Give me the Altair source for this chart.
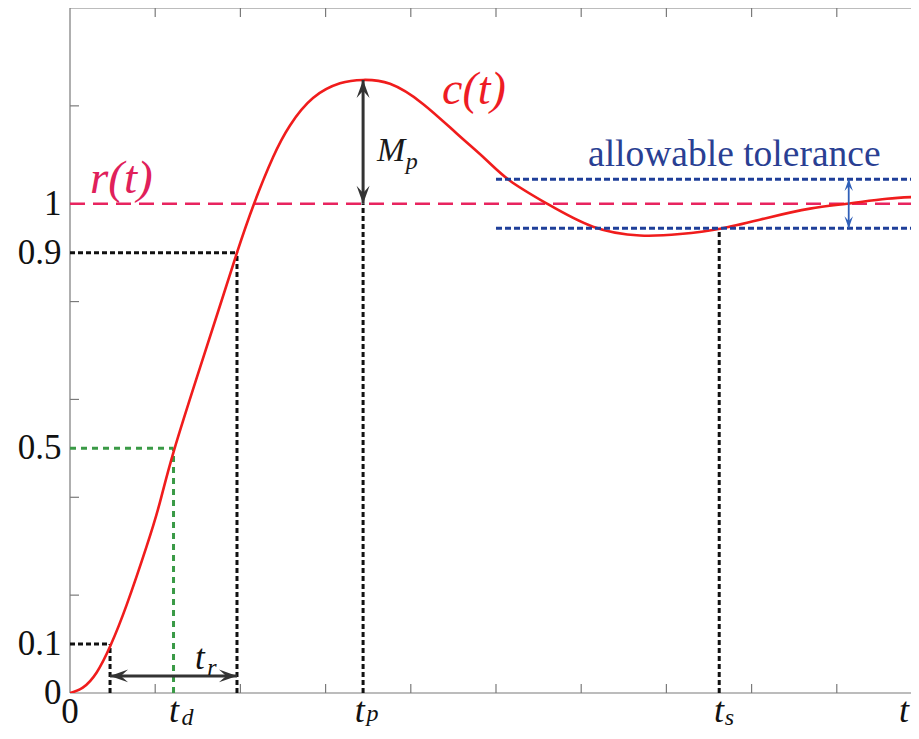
import altair as alt
import pandas as pd

# ---- data ----
t_curve = [0, 0.15, 0.313, 0.478, 0.665, 0.900, 1.056, 1.221, 1.526, 1.761, 1.960,
           2.160, 2.383, 2.582, 2.852, 3.169, 3.440, 3.756, 4.143, 4.542, 4.871,
           5.164, 5.599, 6.138, 6.690, 7.160, 7.629, 8.181, 8.685, 9.120, 9.589, 9.953]
c_curve = [0, 0.011, 0.042, 0.098, 0.180, 0.300, 0.390, 0.496, 0.665, 0.792, 0.900,
           1.000, 1.095, 1.160, 1.216, 1.246, 1.253, 1.245, 1.204, 1.143, 1.092,
           1.047, 1.000, 0.953, 0.935, 0.938, 0.949, 0.971, 0.990, 1.000, 1.010, 1.014]

t_10 = 0.47      # time at 10 %
t_d = 1.215      # delay time (50 %)
t_90 = 1.96      # time at 90 %
t_p = 3.44       # peak time
c_peak = 1.253   # peak value
t_s = 7.62       # settling time
tol = 0.05       # allowable tolerance
tol_start = 5.0
tol_arrow_x = 9.14
tr_arrow_y = 0.035

x_ticks = [1, 2, 3, 4, 5, 6, 7, 8, 9]
y_ticks = [0.2, 0.4, 0.6, 0.8, 1.0, 1.2]
y_labels = ["0", "0.1", "0.5", "0.9", "1"]
y_label_vals = [0, 0.1, 0.5, 0.9, 1.0]

X_MAX = 9.871
Y_MAX = 1.4
W, H = 841, 685

xs = alt.Scale(domain=[0, X_MAX], nice=False, zero=False)
ys = alt.Scale(domain=[0, Y_MAX], nice=False, zero=False)

def X(f="x"):
    return alt.X(f"{f}:Q", scale=xs, axis=None)

def Y(f="y"):
    return alt.Y(f"{f}:Q", scale=ys, axis=None)

SERIF = "Liberation Serif"

# ---- frame ----
frame_df = pd.DataFrame({
    "x": [0, 0, 0], "x2": [0, X_MAX, X_MAX],
    "y": [0, 0, Y_MAX], "y2": [Y_MAX, 0, Y_MAX],
})
frame = alt.Chart(frame_df).mark_rule(color="#7a7a7a", strokeWidth=1.2).encode(
    x=X(), x2="x2:Q", y=Y(), y2="y2:Q")

xt = pd.DataFrame({"x": x_ticks})
xticks_bottom = alt.Chart(xt).mark_rule(color="#7a7a7a", strokeWidth=1.2).encode(
    x=X(), y=alt.value(H), y2=alt.value(H - 9))
xticks_top = alt.Chart(xt).mark_rule(color="#7a7a7a", strokeWidth=1.2).encode(
    x=X(), y=alt.value(0), y2=alt.value(9))
yt = pd.DataFrame({"y": y_ticks})
yticks = alt.Chart(yt).mark_rule(color="#7a7a7a", strokeWidth=1.2).encode(
    y=Y(), x=alt.value(0), x2=alt.value(9))

# ---- reference and tolerance lines ----
ref_df = pd.DataFrame({"x": [0], "x2": [X_MAX], "y": [1.0]})
ref_line = alt.Chart(ref_df).mark_rule(color="#e8245f", strokeWidth=2.5, strokeDash=[15, 8]).encode(
    x=X(), x2="x2:Q", y=Y())

tol_df = pd.DataFrame({"x": [tol_start, tol_start], "x2": [X_MAX, X_MAX], "y": [1 + tol, 1 - tol]})
tol_lines = alt.Chart(tol_df).mark_rule(color="#1f3f99", strokeWidth=3, strokeDash=[6, 3]).encode(
    x=X(), x2="x2:Q", y=Y())

# black dashed guides
blk_df = pd.DataFrame({
    "x":  [0, t_10, 0, t_90, t_p, t_s],
    "x2": [t_10, t_10, t_90, t_90, t_p, t_s],
    "y":  [0.1, 0, 0.9, 0, 0, 0],
    "y2": [0.1, 0.1, 0.9, 0.9, 1.0, 1 - tol],
})
blk_lines = alt.Chart(blk_df).mark_rule(color="#111111", strokeWidth=3, strokeDash=[5, 3]).encode(
    x=X(), x2="x2:Q", y=Y(), y2="y2:Q")

grn_df = pd.DataFrame({"x": [0, t_d], "x2": [t_d, t_d], "y": [0.5, 0], "y2": [0.5, 0.5]})
grn_lines = alt.Chart(grn_df).mark_rule(color="#3a9a46", strokeWidth=3, strokeDash=[6, 5]).encode(
    x=X(), x2="x2:Q", y=Y(), y2="y2:Q")

# ---- response curve ----
curve_df = pd.DataFrame({"x": t_curve, "y": c_curve})
curve = alt.Chart(curve_df).mark_line(color="#f01c1c", strokeWidth=2.6, interpolate="natural",
                                      clip=True).encode(x=X(), y=Y())

# ---- arrows ----
LEFT = "M0,0 L1,-0.36 L0.6,0 L1,0.36 Z"
RIGHT = "M0,0 L-1,-0.36 L-0.6,0 L-1,0.36 Z"
UP = "M0,0 L-0.36,1 L0,0.6 L0.36,1 Z"
DOWN = "M0,0 L-0.36,-1 L0,-0.6 L0.36,-1 Z"

arr_df = pd.DataFrame({"x": [t_10, t_p], "x2": [t_90, t_p],
                       "y": [tr_arrow_y, 1.0], "y2": [tr_arrow_y, c_peak]})
arr_lines = alt.Chart(arr_df).mark_rule(color="#333333", strokeWidth=3).encode(
    x=X(), x2="x2:Q", y=Y(), y2="y2:Q")

def head(xv, yv, shape, size, color):
    d = pd.DataFrame({"x": [xv], "y": [yv]})
    return alt.Chart(d).mark_point(shape=shape, size=size, filled=True, opacity=1,
                                   color=color, strokeWidth=0).encode(x=X(), y=Y())

heads = [
    head(t_10, tr_arrow_y, LEFT, 1300, "#333333"),
    head(t_90, tr_arrow_y, RIGHT, 1300, "#333333"),
    head(t_p, c_peak, UP, 1300, "#333333"),
    head(t_p, 1.0, DOWN, 1300, "#333333"),
    head(tol_arrow_x, 1 + tol, UP, 560, "#2f5fb8"),
    head(tol_arrow_x, 1 - tol, DOWN, 560, "#2f5fb8"),
]
tol_arrow_df = pd.DataFrame({"x": [tol_arrow_x], "y": [1 - tol], "y2": [1 + tol]})
tol_arrow = alt.Chart(tol_arrow_df).mark_rule(color="#2f5fb8", strokeWidth=1.8).encode(
    x=X(), y=Y(), y2="y2:Q")

# ---- texts ----
def txt(df, size, color, style="italic", align="left", baseline="alphabetic"):
    return alt.Chart(df).mark_text(font=SERIF, fontSize=size, color=color, fontStyle=style,
                                   align=align, baseline=baseline).encode(
        x=X(), y=Y(), text="t:N")

ylab_df = pd.DataFrame({"x": [-0.1] * 5, "y": y_label_vals, "t": y_labels})
ylab = txt(ylab_df, 35, "#111111", style="normal", align="right", baseline="middle")

x0_df = pd.DataFrame({"x": [0], "y": [-0.0612], "t": ["0"]})
x0 = txt(x0_df, 35, "#111111", style="normal", align="center")

xt_main = pd.DataFrame({"x": [1.22, 3.40, 7.617], "y": [-0.0592, -0.0592, -0.0592],
                        "t": ["t", "t", "t"]})
x_t = txt(xt_main, 36, "#111111", align="center")
xt_sub = pd.DataFrame({"x": [1.31, 3.48, 7.685], "y": [-0.0653, -0.0571, -0.0653],
                       "t": ["d", "p", "s"]})
x_sub = txt(xt_sub, 24, "#111111")
t_end = txt(pd.DataFrame({"x": [9.73], "y": [-0.0592], "t": ["t"]}), 36, "#111111")

tr_t = txt(pd.DataFrame({"x": [1.467], "y": [0.049], "t": ["t"]}), 35, "#111111")
tr_s = txt(pd.DataFrame({"x": [1.61], "y": [0.037], "t": ["r"]}), 24, "#111111")

mp_m = txt(pd.DataFrame({"x": [3.603], "y": [1.088], "t": ["M"]}), 34, "#1a1a1a")
mp_s = txt(pd.DataFrame({"x": [3.94], "y": [1.070], "t": ["p"]}), 24, "#1a1a1a")

rt = txt(pd.DataFrame({"x": [0.235], "y": [1.022], "t": ["r(t)"]}), 47, "#e0205a")
ct = txt(pd.DataFrame({"x": [4.366], "y": [1.204], "t": ["c(t)"]}), 46, "#ee1c24")
tol_txt = txt(pd.DataFrame({"x": [6.08], "y": [1.078], "t": ["allowable tolerance"]}),
              37.5, "#2a3f93", style="normal")

chart = alt.layer(
    frame, xticks_bottom, xticks_top, yticks,
    ref_line, blk_lines, grn_lines, curve, tol_lines,
    arr_lines, tol_arrow, *heads,
    ylab, x0, x_t, x_sub, t_end, tr_t, tr_s, mp_m, mp_s, rt, ct, tol_txt,
).properties(
    width=W, height=H,
    autosize=alt.AutoSizeParams(type="none"),
    padding={"left": 62, "top": 0, "right": 0, "bottom": 38},
    background="white",
).configure_view(stroke=None)

chart.save("out.html", embed_options={"renderer": "svg", "actions": False})
